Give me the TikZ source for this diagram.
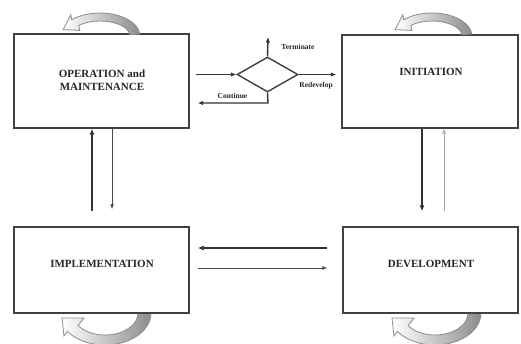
\documentclass[tikz,border=0pt]{standalone}
\usepackage{fontspec}
\setmainfont{Liberation Serif}
\usetikzlibrary{shapes.geometric,arrows.meta}
\begin{document}
\begin{tikzpicture}[x=1pt,y=-1pt,
  box/.style={draw=black!75,line width=1.3pt,minimum width=175pt,minimum height=#1,inner sep=0pt},
  lbl/.style={font=\bfseries\fontsize{11}{13}\selectfont,text=black!85,align=center,inner sep=0pt},
  small/.style={font=\bfseries\fontsize{7.5}{9}\selectfont,text=black!85,inner sep=0pt},
  thk/.style={line width=2.2pt,draw=black!80,-{Latex[length=6pt,width=5pt]}},
  thn/.style={line width=0.9pt,draw=black!70,-{Latex[length=5pt,width=4pt]}},
  thngray/.style={line width=0.9pt,draw=black!35,-{Latex[open,length=5pt,width=4.5pt]}},
  dia/.style={line width=1.4pt,draw=black!75},
  mid/.style={line width=1.4pt,draw=black!80,-{Latex[length=5.5pt,width=4.5pt]}},
  curl/.style={draw=black!45,line width=0.8pt,left color=white,right color=black!45}
]
\useasboundingbox (0,0) rectangle (521,343);
\clip (0,0) rectangle (521,343);
\fill[white] (0,0) rectangle (521,343);

% boxes
\node[box=94pt] (opm) at (101.5,81) {};
\node[box=93pt,minimum width=176pt] (init) at (430,81.5) {};
\node[box=86pt] (impl) at (101.5,270) {};
\node[box=86pt] (dev) at (430.5,270) {};

% texts
\node[lbl] (opmt) at (102,80) {OPERATION and\\MAINTENANCE};
\node[lbl] (initt) at (431,71.5) {INITIATION};
\node[lbl] (implt) at (102,263.5) {IMPLEMENTATION};
\node[lbl] (devt) at (431,263.5) {DEVELOPMENT};

% decision diamond
\node[dia,diamond,minimum width=61pt,minimum height=35pt,inner sep=0pt] (d) at (267.5,74.5) {};
\coordinate (term) at (268,37);
\coordinate (bend) at (268,103);
\draw[mid] ([xshift=6]opm.east |- d.west) -- (d.west);
\draw[mid] (d.east) -- ([xshift=-5]init.west |- d.east);
\draw[mid] (d.north) -- (term);
\draw[mid] (d.south) -- (bend) -- ([xshift=8]opm.east |- bend);
\node[small] (lterm) at (298,47) {Terminate};
\node[small] (lcont) at (232.5,95.5) {Continue};
\node[small] (lredev) at (316,85.5) {Redevelop};

% vertical connectors left
\draw[thk] ([xshift=-9.5,yshift=15]impl.north) -- ([xshift=-9.5]opm.south);
\draw[thn] ([xshift=10.5]opm.south) -- ([xshift=10.5,yshift=17]impl.north);
% vertical connectors right
\draw[thk] ([xshift=-8]init.south) -- ([xshift=-8.5,yshift=15]dev.north);
\draw[thngray] ([xshift=13.5,yshift=15]dev.north) -- ([xshift=14]init.south);
% horizontal connectors
\draw[thk] ([xshift=-15,yshift=22]dev.west) -- ([xshift=8,yshift=22]impl.east);
\draw[thn] ([xshift=8,yshift=2]impl.east) -- ([xshift=-15,yshift=2]dev.west);

% curled arrows on top
\foreach \dx in {0,332}{
\begin{scope}[xshift=\dx]
\draw[curl]
  (100,36) ++(-5:40 and 23) arc[start angle=-5,end angle=-135,x radius=40,y radius=23]
  -- (70.8,14.8) -- (63.2,29.6) -- (79.8,30.4) -- (78.8,25.4)
  arc[start angle=-135,end angle=-5,x radius=30,y radius=15] -- cycle;
\end{scope}}
% curled arrows below
\foreach \dx in {0,330}{
\begin{scope}[xshift=\dx]
\draw[curl]
  (105,313) ++(3:46 and 32) arc[start angle=3,end angle=145,x radius=46,y radius=32]
  -- (64,336) -- (62,318) -- (84,318) -- (78,325.6)
  arc[start angle=145,end angle=3,x radius=33,y radius=22] -- cycle;
\end{scope}}
\end{tikzpicture}
\end{document}
